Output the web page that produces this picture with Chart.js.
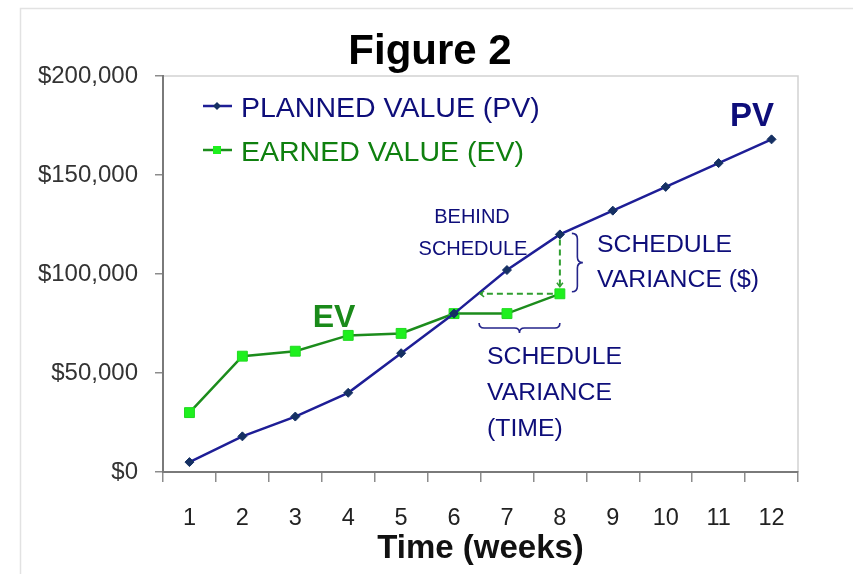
<!DOCTYPE html>
<html>
<head>
<meta charset="utf-8">
<script src="https://cdn.jsdelivr.net/npm/chart.js@4/dist/chart.umd.min.js"></script>
<style>
  html, body { margin: 0; padding: 0; background: #fff; }
  canvas { display: block; }
</style>
</head>
<body>
<canvas id="grafico" width="853" height="574"></canvas>
<script>
// --- DATA ---
const weeks = ['1', '2', '3', '4', '5', '6', '7', '8', '9', '10', '11', '12'];
const plannedValue = [5000, 18000, 28000, 40000, 60000, 80000, 102000, 120000, 132000, 144000, 156000, 168000];
const earnedValue = [30000, 58500, 61000, 69000, 70000, 80000, 80000, 90000, null, null, null, null];
const yTickStep = 50000;
const yMax = 200000;

const FONT = "'Liberation Sans', Arial, sans-serif";
const NAVY = '#0e0e7a';
const GREEN_TXT = '#0f800f';

// moldura externa e borda superior/direita da área do gráfico
const framePlugin = {
    id: 'frame',
    beforeDraw(chart) {
        const ctx = chart.ctx;
        const a = chart.chartArea;
        ctx.save();
        ctx.strokeStyle = '#e2e2e2';
        ctx.lineWidth = 1.5;
        ctx.beginPath();
        ctx.moveTo(20.5, 580);
        ctx.lineTo(20.5, 8.5);
        ctx.lineTo(860, 8.5);
        ctx.stroke();
        ctx.strokeStyle = '#d2d2d2';
        ctx.beginPath();
        ctx.moveTo(a.left, a.top);
        ctx.lineTo(a.right, a.top);
        ctx.lineTo(a.right, a.bottom);
        ctx.stroke();
        ctx.restore();
    }
};

function brace(ctx, x0, yA, yB, h) {
    const mid = (yA + yB) / 2;
    ctx.beginPath();
    ctx.moveTo(x0, yA);
    ctx.quadraticCurveTo(x0 + h, yA, x0 + h, yA + h);
    ctx.lineTo(x0 + h, mid - h);
    ctx.quadraticCurveTo(x0 + h, mid, x0 + 2 * h, mid);
    ctx.quadraticCurveTo(x0 + h, mid, x0 + h, mid + h);
    ctx.lineTo(x0 + h, yB - h);
    ctx.quadraticCurveTo(x0 + h, yB, x0, yB);
    ctx.stroke();
}

function braceDown(ctx, xA, xB, y0, h) {
    const mid = (xA + xB) / 2;
    ctx.beginPath();
    ctx.moveTo(xA, y0);
    ctx.quadraticCurveTo(xA, y0 + h, xA + h, y0 + h);
    ctx.lineTo(mid - h, y0 + h);
    ctx.quadraticCurveTo(mid, y0 + h, mid, y0 + 2 * h);
    ctx.quadraticCurveTo(mid, y0 + h, mid + h, y0 + h);
    ctx.lineTo(xB - h, y0 + h);
    ctx.quadraticCurveTo(xB, y0 + h, xB, y0);
    ctx.stroke();
}

function text(ctx, str, x, y, size, color, weight, align) {
    ctx.font = (weight || 'normal') + ' ' + size + 'px ' + FONT;
    ctx.fillStyle = color;
    ctx.textAlign = align || 'left';
    ctx.textBaseline = 'alphabetic';
    ctx.fillText(str, x, y);
}

// título, legenda e anotações
const annotPlugin = {
    id: 'annot',
    afterDatasetsDraw(chart) {
        const ctx = chart.ctx;
        const xs = chart.scales.x;
        const ys = chart.scales.y;
        const last = 7;
        const x8 = xs.getPixelForValue(last);
        const yPV = ys.getPixelForValue(plannedValue[last]);
        const yEV = ys.getPixelForValue(earnedValue[last]);

        // ponto onde o PV atinge o EV atual
        let xCross = x8;
        for (let i = 0; i < last; i++) {
            const a = plannedValue[i], b = plannedValue[i + 1];
            if (a <= earnedValue[last] && b >= earnedValue[last]) {
                const t = (earnedValue[last] - a) / (b - a);
                const p0 = xs.getPixelForValue(i), p1 = xs.getPixelForValue(i + 1);
                xCross = p0 + t * (p1 - p0);
                break;
            }
        }

        ctx.save();
        ctx.strokeStyle = '#2f9e2f';
        ctx.lineWidth = 2;
        ctx.setLineDash([6, 4]);
        ctx.beginPath();
        ctx.moveTo(x8, yPV + 5);
        ctx.lineTo(x8, yEV - 7);
        ctx.moveTo(x8 - 7, yEV);
        ctx.lineTo(xCross + 2, yEV);
        ctx.stroke();
        ctx.setLineDash([]);
        ctx.lineWidth = 1.5;
        ctx.beginPath();
        ctx.moveTo(x8 - 3, yEV - 11);
        ctx.lineTo(x8, yEV - 7);
        ctx.lineTo(x8 + 3, yEV - 11);
        ctx.moveTo(xCross + 6, yEV - 3);
        ctx.lineTo(xCross + 2, yEV);
        ctx.lineTo(xCross + 6, yEV + 3);
        ctx.stroke();

        // chaves
        ctx.strokeStyle = '#24248a';
        ctx.lineWidth = 1.6;
        brace(ctx, x8 + 12, yPV - 1, yEV - 2, 5.5);
        braceDown(ctx, xCross + 1, x8, 323, 5);
        ctx.restore();
    },
    afterDraw(chart) {
        const ctx = chart.ctx;
        const ds = chart.data.datasets;
        ctx.save();
        text(ctx, 'Figure 2', 430, 64, 42, '#000', 'bold', 'center');

        // legenda
        const rows = [106, 150];
        ds.forEach((d, i) => {
            const y = rows[i];
            ctx.strokeStyle = d.borderColor;
            ctx.lineWidth = 2.5;
            ctx.beginPath();
            ctx.moveTo(203, y);
            ctx.lineTo(232, y);
            ctx.stroke();
            ctx.fillStyle = d.pointBackgroundColor;
            if (d.pointStyle === 'rectRot') {
                ctx.beginPath();
                ctx.moveTo(217, y - 4);
                ctx.lineTo(221, y);
                ctx.lineTo(217, y + 4);
                ctx.lineTo(213, y);
                ctx.closePath();
                ctx.fill();
            } else {
                ctx.fillRect(213, y - 4, 8, 8);
            }
            text(ctx, d.label, 241, y + 10.5, 28.5, i === 0 ? NAVY : GREEN_TXT);
        });

        text(ctx, 'EV', 334, 327, 32, '#1a8a1a', 'bold', 'center');
        text(ctx, 'PV', 752, 126, 33, NAVY, 'bold', 'center');

        text(ctx, 'BEHIND', 472, 223, 20, NAVY, 'normal', 'center');
        text(ctx, 'SCHEDULE', 473, 255, 20, NAVY, 'normal', 'center');

        text(ctx, 'SCHEDULE', 597, 252, 24.8, NAVY);
        text(ctx, 'VARIANCE ($)', 597, 287, 24.8, NAVY);

        text(ctx, 'SCHEDULE', 487, 364, 24.8, NAVY);
        text(ctx, 'VARIANCE', 487, 400, 24.8, NAVY);
        text(ctx, '(TIME)', 487, 436, 24.8, NAVY);
        ctx.restore();
    }
};

const ctx = document.getElementById('grafico').getContext('2d');
new Chart(ctx, {
    type: 'line',
    data: {
        labels: weeks,
        datasets: [
            {
                label: 'PLANNED VALUE (PV)',
                data: plannedValue,
                borderColor: '#1e1e96',
                borderWidth: 2.5,
                pointStyle: 'rectRot',
                pointRadius: 4.5,
                pointBackgroundColor: '#153063',
                pointBorderColor: '#153063',
                pointBorderWidth: 1,
                tension: 0
            },
            {
                label: 'EARNED VALUE (EV)',
                data: earnedValue,
                borderColor: '#1c8c1c',
                borderWidth: 2.5,
                pointStyle: 'rect',
                pointRadius: 7,
                pointBackgroundColor: '#1ef01e',
                pointBorderColor: '#22d822',
                pointBorderWidth: 1,
                tension: 0,
                spanGaps: false
            }
        ]
    },
    options: {
        responsive: false,
        animation: false,
        layout: { padding: { top: 76, right: 55, left: 0, bottom: 0 } },
        plugins: {
            legend: { display: false },
            tooltip: { enabled: false }
        },
        scales: {
            x: {
                type: 'category',
                offset: true,
                grid: { offset: true, drawOnChartArea: false, tickLength: 10, color: '#8c8c8c', lineWidth: 1.5 },
                border: { display: true, color: '#7a7a7a', width: 2 },
                ticks: { padding: 22, color: '#222', font: { family: FONT, size: 23.5 }, maxRotation: 0, autoSkip: false },
                title: {
                    display: true,
                    text: 'Time (weeks)',
                    color: '#111',
                    font: { family: FONT, size: 33, weight: 'bold', lineHeight: 1.5 },
                    padding: 0
                },
                afterFit: s => { s.height = 102; }
            },
            y: {
                min: 0,
                max: yMax,
                ticks: {
                    stepSize: yTickStep,
                    padding: 17,
                    color: '#333',
                    font: { family: FONT, size: 24 },
                    callback: v => '$' + v.toLocaleString('en-US')
                },
                grid: { drawOnChartArea: false, tickLength: 8, color: '#8c8c8c', lineWidth: 1.5 },
                border: { display: true, color: '#7a7a7a', width: 2 },
                afterFit: s => { s.width = 163; }
            }
        }
    },
    plugins: [framePlugin, annotPlugin]
});
</script>
</body>
</html>
